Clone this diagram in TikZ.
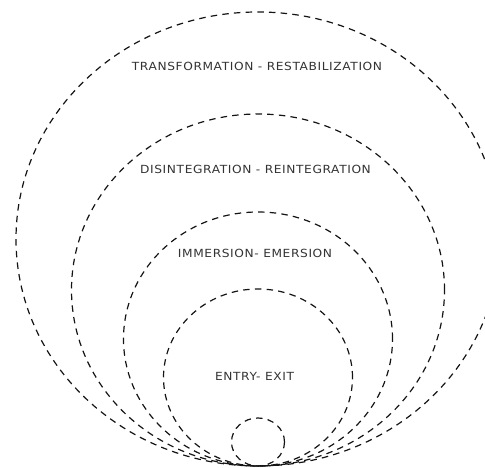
\documentclass[tikz,border=0pt]{standalone}
\usepackage{fontspec}
\setmainfont{DejaVu Sans}
\newfontfamily\stagefont[LetterSpace=5]{DejaVu Sans}
\usepackage{tikz}
\definecolor{ink}{RGB}{51, 51, 51}
\definecolor{ringink}{RGB}{20, 20, 20}

\begin{document}
\begin{tikzpicture}[
    x=1pt, y=1pt,
    ring/.style={draw=ringink, line width=1.2pt, dash pattern=on 6.5pt off 5.2pt},
    stage/.style={text=ink, inner sep=0pt, xscale=1.09, transform shape,
      font=\stagefont\fontsize{11.2}{13}\selectfont},
  ]
  \useasboundingbox (0,0) rectangle (485,468);
  \clip (0,0) rectangle (485,468);
  % common touching point at the bottom
  \coordinate (base) at (258,2);
  % rings, from the smallest outwards
  \draw[ring] ([yshift=24pt]base) ellipse [x radius=26.5, y radius=24];
  \draw[ring] ([yshift=88.5pt]base) ellipse [x radius=94.5, y radius=88.5];
  \draw[ring] ([yshift=127pt]base) ellipse [x radius=134.5, y radius=127];
  \draw[ring] ([yshift=176pt]base) ellipse [x radius=186.5, y radius=176];
  \draw[ring] ([yshift=227pt]base) ellipse [x radius=242, y radius=227];
  % stage labels
  \node[stage] (entry) at (254.5,92) {ENTRY- EXIT};
  \node[stage] (immersion) at (255,215) {IMMERSION- EMERSION};
  \node[stage] (disint) at (255.5,299) {DISINTEGRATION - REINTEGRATION};
  \node[stage] (transf) at (257,402) {TRANSFORMATION - RESTABILIZATION};
\end{tikzpicture}
\end{document}
